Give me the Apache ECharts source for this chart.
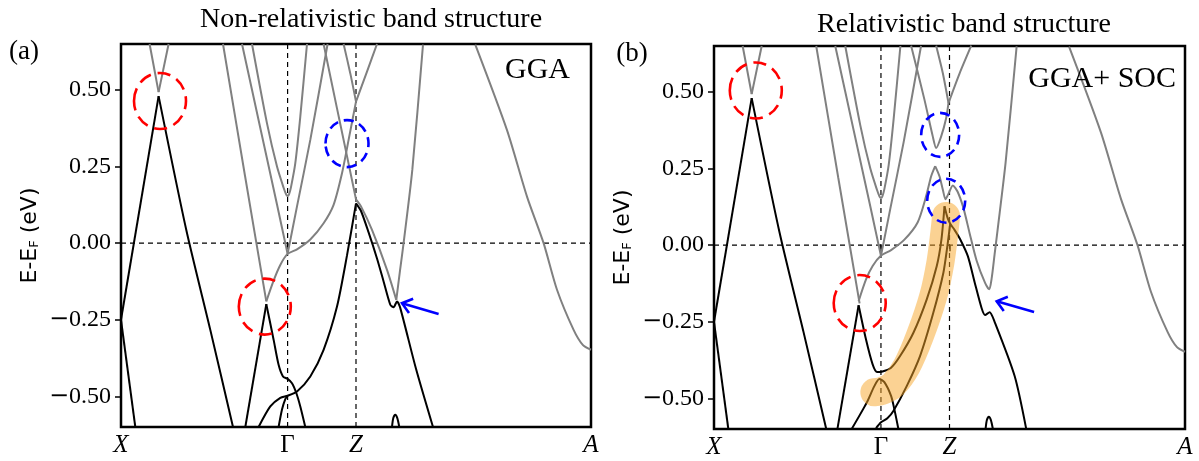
<!DOCTYPE html>
<html><head><meta charset="utf-8">
<script src="https://cdn.jsdelivr.net/npm/echarts@6/dist/echarts.min.js"></script>
<style>html,body{margin:0;padding:0;background:#fff}#c{width:1199px;height:461px}</style>
</head><body><div id="c"></div>
<script>
// ---------- axis data ----------
const K_TICKS = [0, 1.666, 2.35, 4.70];
const K_LABELS = ['X', 'Γ', 'Z', 'A'];
const E_TICKS = [-0.5, -0.25, 0, 0.25, 0.5];
const E_MIN = -0.6, E_MAX = 0.65;

// ---------- bands shared by both panels ----------
const sharedValence = [
  [[0, -0.25], [0.143, -0.6]],
  [[0, -0.25], [0.376, 0.48]],
  [[0.376, 0.48], [0.653, 0.043], [0.893, -0.283], [1.12, -0.6]],
  [[2.71, -0.6], [2.723, -0.571], [2.743, -0.56], [2.763, -0.571], [2.783, -0.6]]
];
const sharedConduction = [
  [[0.286, 0.65], [0.376, 0.493]],
  [[0.376, 0.493], [0.476, 0.65]],
  [[1.02, 0.65], [1.24, 0.22], [1.453, -0.19]],
  [[1.21, 0.65], [1.393, 0.376], [1.56, 0.126], [1.666, -0.035]],
  [[1.666, -0.035], [1.76, 0.12], [1.893, 0.337], [2.066, 0.65]],
  [[1.31, 0.65], [1.46, 0.391], [1.56, 0.25], [1.626, 0.181], [1.652, 0.159], [1.666, 0.154], [1.68, 0.159], [1.70, 0.183], [1.743, 0.261], [1.793, 0.413], [1.86, 0.65]],
  [[3.543, 0.648], [3.86, 0.369], [4.06, 0.152], [4.226, 0.0], [4.36, -0.152], [4.526, -0.283], [4.62, -0.333], [4.70, -0.348]]
];

// ---------- panel (a) GGA ----------
const aValence = [
  [[1.243, -0.6], [1.453, -0.199]],
  [[1.453, -0.199], [1.526, -0.315], [1.576, -0.397], [1.62, -0.435], [1.666, -0.443], [1.71, -0.457], [1.753, -0.489], [1.793, -0.533], [1.843, -0.6]],
  [[1.376, -0.6], [1.493, -0.533], [1.593, -0.505], [1.666, -0.498], [1.76, -0.484], [1.893, -0.435], [2.026, -0.348], [2.16, -0.207], [2.26, -0.04], [2.35, 0.13]],
  [[1.576, -0.6], [1.61, -0.543], [1.643, -0.509], [1.666, -0.498]],
  [[2.35, 0.13], [2.40, 0.105], [2.476, 0.035], [2.56, -0.05], [2.626, -0.125], [2.693, -0.201], [2.726, -0.209], [2.76, -0.19], [2.793, -0.212], [2.95, -0.41], [3.12, -0.6]]
];
const aConduction = [
  [[1.453, -0.19], [1.526, -0.122], [1.593, -0.071], [1.666, -0.035], [1.76, -0.02], [1.893, 0.012], [2.026, 0.065], [2.126, 0.125], [2.21, 0.228], [2.276, 0.337], [2.35, 0.462]],
  [[2.35, 0.462], [2.46, 0.56], [2.56, 0.65]],
  [[2.026, 0.65], [2.16, 0.44], [2.26, 0.284], [2.35, 0.143]],
  [[2.35, 0.143], [2.40, 0.12], [2.51, 0.043], [2.66, -0.087], [2.753, -0.185]],
  [[2.753, -0.185], [2.79, -0.09], [2.826, 0.0], [2.913, 0.239], [3.02, 0.648]],
  [[2.226, 0.65], [2.293, 0.554], [2.35, 0.462]]
];

// ---------- panel (b) GGA+SOC ----------
const bValence = [
  [[1.233, -0.597], [1.443, -0.196]],
  [[1.443, -0.196], [1.517, -0.308], [1.583, -0.389], [1.627, -0.414], [1.673, -0.413], [1.767, -0.40], [1.857, -0.362], [1.99, -0.286], [2.123, -0.177], [2.223, -0.068], [2.27, 0.02], [2.30, 0.127]],
  [[2.30, 0.127], [2.33, 0.09], [2.357, 0.07], [2.40, 0.05], [2.455, 0.02], [2.533, -0.036], [2.60, -0.12], [2.67, -0.205], [2.705, -0.228], [2.75, -0.219], [2.80, -0.25], [3.0, -0.427], [3.114, -0.597]],
  [[1.617, -0.597], [1.667, -0.578], [1.73, -0.565], [1.79, -0.541], [1.923, -0.46], [2.056, -0.362], [2.189, -0.22], [2.289, -0.09], [2.33, 0.0], [2.357, 0.07]],
  [[1.374, -0.6], [1.524, -0.514], [1.60, -0.46], [1.65, -0.437], [1.70, -0.447], [1.767, -0.492], [1.80, -0.536], [1.84, -0.6]]
];
const bConduction = [
  [[1.443, -0.183], [1.517, -0.112], [1.583, -0.068], [1.667, -0.034], [1.767, -0.016], [1.9, 0.018], [2.033, 0.075], [2.117, 0.16], [2.167, 0.225], [2.207, 0.258]],
  [[2.207, 0.258], [2.25, 0.225], [2.283, 0.182], [2.31, 0.15], [2.34, 0.168], [2.383, 0.195], [2.43, 0.175], [2.49, 0.12], [2.55, 0.04], [2.62, -0.05], [2.705, -0.123], [2.747, -0.144], [2.77, -0.11], [2.80, -0.03], [2.83, 0.05], [2.91, 0.27], [3.02, 0.649]],
  [[1.967, 0.651], [2.1, 0.475], [2.183, 0.355], [2.217, 0.317], [2.267, 0.355], [2.317, 0.415], [2.34, 0.464]],
  [[2.34, 0.464], [2.45, 0.56], [2.567, 0.651]],
  [[2.217, 0.651], [2.283, 0.562], [2.34, 0.464]]
];
// highlighted pair of bands (orange band centre line)
const bHighlight = [[1.60, -0.48], [1.68, -0.475], [1.79, -0.455], [1.923, -0.395], [2.056, -0.295], [2.189, -0.165], [2.26, -0.055], [2.30, 0.045], [2.315, 0.095]];

// ---------- annotations (data coordinates) ----------
const circlesA = [[0.39, 0.464], [1.438, -0.207], [2.26, 0.325]];
const circlesB = [[0.417, 0.505], [1.454, -0.189], [2.257, 0.36], [2.317, 0.145]];
const arrowA = {tail: [3.176, -0.231], tip: [2.81, -0.196]};
const arrowB = {tail: [3.194, -0.218], tip: [2.821, -0.183]};

// ---------- chart ----------
const chart = echarts.init(document.getElementById('c'));
const SERIF = '"Liberation Serif", "Times New Roman", serif';
const GRAY = '#808080';

function band(data, gi, color, z) {
  return {type: 'line', xAxisIndex: gi, yAxisIndex: gi, data: data, symbol: 'none', showSymbol: false,
    smooth: 0.25, lineStyle: {color: color, width: 2}, z: z, silent: true, animation: false};
}
function dashed(data, gi) {
  return {type: 'line', xAxisIndex: gi, yAxisIndex: gi, data: data, symbol: 'none', showSymbol: false,
    lineStyle: {color: '#000', width: 1.2, type: [5, 4]}, z: 1, silent: true, animation: false};
}
function xAxis(gi) {
  return {type: 'value', gridIndex: gi, min: K_TICKS[0], max: K_TICKS[3],
    splitLine: {show: false}, axisLine: {show: false},
    axisTick: {show: true, customValues: K_TICKS, length: 6, lineStyle: {color: '#000', width: 1.5}},
    axisLabel: {show: true, customValues: K_TICKS, margin: 6,
      formatter: function (v) {
        let i = 0, best = 1e9;
        K_TICKS.forEach(function (t, j) { if (Math.abs(t - v) < best) { best = Math.abs(t - v); i = j; } });
        return i === 1 ? '{up|' + K_LABELS[i] + '}' : '{it|' + K_LABELS[i] + '}';
      },
      rich: {it: {fontFamily: SERIF, fontStyle: 'italic', fontSize: 25, color: '#000'},
             up: {fontFamily: SERIF, fontSize: 25, color: '#000'}}}
  };
}
function yAxis(gi) {
  return {type: 'value', gridIndex: gi, min: E_MIN, max: E_MAX,
    splitLine: {show: false}, axisLine: {show: false},
    axisTick: {show: true, customValues: E_TICKS, length: 6, lineStyle: {color: '#000', width: 1.5}},
    axisLabel: {show: true, customValues: E_TICKS, margin: 10, fontFamily: SERIF, fontSize: 24, color: '#000',
      formatter: function (v) { return (v < -1e-9 ? '{m|\u2212}' : '') + '{d|' + Math.abs(v).toFixed(2) + '}'; },
      rich: {m: {fontFamily: '"DejaVu Serif", serif', fontSize: 24, color: '#000'},
             d: {fontFamily: SERIF, fontSize: 24, color: '#000'}}},
    name: 'E-E{sub|F} (eV)', nameLocation: 'middle', nameRotate: 90, nameGap: 80,
    nameTextStyle: {fontFamily: '"DejaVu Sans", sans-serif', fontSize: 22, color: '#000',
      rich: {sub: {fontFamily: '"DejaVu Sans", sans-serif', fontSize: 13, color: '#000', verticalAlign: 'bottom'}}}
  };
}

const series = [];
[0, 1].forEach(function (gi) {
  series.push(dashed([[K_TICKS[0], 0], [K_TICKS[3], 0]], gi));
  series.push(dashed([[K_TICKS[1], E_MIN], [K_TICKS[1], E_MAX]], gi));
  series.push(dashed([[K_TICKS[2], E_MIN], [K_TICKS[2], E_MAX]], gi));
  sharedConduction.forEach(function (d) { series.push(band(d, gi, GRAY, 2)); });
  sharedValence.forEach(function (d) { series.push(band(d, gi, '#000', 3)); });
});
aConduction.forEach(function (d) { series.push(band(d, 0, GRAY, 2)); });
aValence.forEach(function (d) { series.push(band(d, 0, '#000', 3)); });
bConduction.forEach(function (d) { series.push(band(d, 1, GRAY, 2)); });
bValence.forEach(function (d) { series.push(band(d, 1, '#000', 3)); });
series.push({type: 'line', xAxisIndex: 1, yAxisIndex: 1, data: bHighlight, symbol: 'none', showSymbol: false,
  smooth: 0.3, lineStyle: {color: 'rgba(247,165,40,0.5)', width: 28, cap: 'round', join: 'round'},
  z: 4, silent: true, animation: false});

chart.setOption({
  animation: false,
  backgroundColor: '#fff',
  grid: [
    {left: 121, top: 44, width: 470, height: 383, show: true, borderColor: '#000', borderWidth: 2.5, backgroundColor: 'transparent'},
    {left: 714, top: 46, width: 471, height: 383, show: true, borderColor: '#000', borderWidth: 2.5, backgroundColor: 'transparent'}
  ],
  xAxis: [xAxis(0), xAxis(1)],
  yAxis: [yAxis(0), yAxis(1)],
  series: series
});

// ---------- annotations and texts ----------
function toPx(gi, p) { return chart.convertToPixel({gridIndex: gi}, p); }
const graphics = [];
function txt(text, x, y, size, align, italic) {
  graphics.push({type: 'text', silent: true, z: 20, style: {text: text, x: x, y: y, fill: '#000',
    font: (italic ? 'italic ' : '') + size + 'px ' + SERIF, textAlign: align, textVerticalAlign: 'middle', align: align, verticalAlign: 'middle'}});
}
function ellipse(gi, c, rx, ry, color, dash) {
  const p = toPx(gi, c);
  graphics.push({type: 'ellipse', silent: true, z: 20, shape: {cx: p[0], cy: p[1], rx: rx, ry: ry},
    style: {fill: 'none', stroke: color, lineWidth: 2.6, lineDash: dash}});
}
function arrow(gi, a) {
  const t = toPx(gi, a.tip), s = toPx(gi, a.tail);
  const dx = s[0] - t[0], dy = s[1] - t[1], L = Math.hypot(dx, dy), ux = dx / L, uy = dy / L;
  const ang = 38 * Math.PI / 180, len = 12;
  const r1 = [t[0] + len * (ux * Math.cos(ang) - uy * Math.sin(ang)), t[1] + len * (ux * Math.sin(ang) + uy * Math.cos(ang))];
  const r2 = [t[0] + len * (ux * Math.cos(-ang) - uy * Math.sin(-ang)), t[1] + len * (ux * Math.sin(-ang) + uy * Math.cos(-ang))];
  graphics.push({type: 'polyline', silent: true, z: 20, shape: {points: [s, t]}, style: {stroke: '#0000ff', lineWidth: 2.6, fill: 'none'}});
  graphics.push({type: 'polyline', silent: true, z: 20, shape: {points: [r1, t, r2]}, style: {stroke: '#0000ff', lineWidth: 2.6, fill: 'none'}});
}
ellipse(0, circlesA[0], 26, 28, '#ff0000', [13, 7]);
ellipse(0, circlesA[1], 26, 28, '#ff0000', [13, 7]);
ellipse(0, circlesA[2], 21.5, 23.5, '#0000ff', [10, 6]);
ellipse(1, circlesB[0], 26, 28, '#ff0000', [13, 7]);
ellipse(1, circlesB[1], 26, 28, '#ff0000', [13, 7]);
ellipse(1, circlesB[2], 19, 22, '#0000ff', [10, 6]);
ellipse(1, circlesB[3], 19, 22, '#0000ff', [10, 6]);
arrow(0, arrowA);
arrow(1, arrowB);

txt('Non-relativistic band structure', 371, 20, 28, 'center');
txt('Relativistic band structure', 964, 25, 28, 'center');
txt('(a)', 24, 52, 27, 'center');
txt('(b)', 632, 54, 27, 'center');
txt('GGA', 570, 70, 30, 'right');
txt('GGA+ SOC', 1176, 79, 30, 'right');

chart.setOption({graphic: graphics});
</script></body></html>
